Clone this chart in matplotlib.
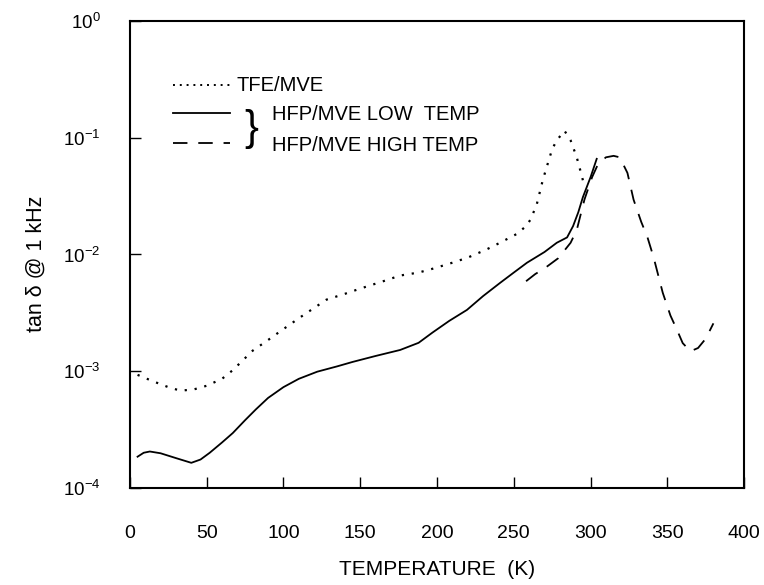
import matplotlib
matplotlib.use('Agg')
import matplotlib.pyplot as plt
from matplotlib.lines import Line2D
from matplotlib.ticker import LogLocator, LogFormatterMathtext, NullLocator

plt.rcParams['font.family'] = ['Liberation Sans', 'DejaVu Sans']
plt.rcParams['mathtext.fontset'] = 'custom'
plt.rcParams['mathtext.rm'] = 'Liberation Sans'
plt.rcParams['mathtext.it'] = 'Liberation Sans:italic'

# TFE/MVE (dotted)
tfe_T = [5, 15, 25, 33, 42, 50, 60, 67, 80, 90, 98, 111, 128, 140, 150, 165, 176, 188,
         198, 210, 220, 232, 241, 252, 258, 261, 265, 269, 275, 278, 283, 287, 291, 294.5, 296]
tfe_tan = [9.3e-4, 8.2e-4, 7.3e-4, 6.8e-4, 7.0e-4, 7.5e-4, 8.6e-4, 1.02e-3, 1.5e-3, 1.85e-3,
           2.2e-3, 2.9e-3, 4.1e-3, 4.6e-3, 5.1e-3, 5.9e-3, 6.6e-3, 7.0e-3, 7.6e-3, 8.5e-3,
           9.4e-3, 1.1e-2, 1.26e-2, 1.5e-2, 1.75e-2, 2.0e-2, 2.7e-2, 4.4e-2, 8.0e-2, 9.5e-2,
           0.115, 0.095, 0.068, 0.046, 0.038]

# HFP/MVE low temp (solid)
low_T = [5, 9, 13, 20, 30, 40, 46, 52, 60, 67, 75, 82, 90, 100, 110, 122, 135, 145, 160,
         176, 188, 197, 208, 219.5, 230, 241, 250, 258.6, 270, 278, 284.7, 288.6, 292, 295,
         300, 304]
low_tan = [1.85e-4, 2.0e-4, 2.05e-4, 1.98e-4, 1.8e-4, 1.64e-4, 1.75e-4, 2.0e-4, 2.45e-4,
           2.95e-4, 3.8e-4, 4.7e-4, 5.9e-4, 7.3e-4, 8.6e-4, 9.9e-4, 1.1e-3, 1.2e-3, 1.35e-3,
           1.52e-3, 1.75e-3, 2.14e-3, 2.7e-3, 3.35e-3, 4.4e-3, 5.7e-3, 7.0e-3, 8.5e-3,
           1.05e-2, 1.26e-2, 1.4e-2, 1.75e-2, 2.3e-2, 3.1e-2, 4.6e-2, 6.6e-2]

# HFP/MVE high temp (dashed)
high_T = [258, 264, 270, 279, 287, 291, 296, 301, 305, 310, 315, 319, 324, 328, 333, 337,
          341, 347, 352, 356, 360, 365, 370, 375, 380]
high_tan = [5.9e-3, 6.8e-3, 7.6e-3, 9.3e-3, 1.26e-2, 1.62e-2, 2.95e-2, 4.6e-2, 6.0e-2,
            6.8e-2, 7.0e-2, 6.8e-2, 5.0e-2, 2.95e-2, 1.9e-2, 1.41e-2, 9.5e-3, 4.7e-3,
            3.0e-3, 2.3e-3, 1.74e-3, 1.48e-3, 1.58e-3, 1.9e-3, 2.57e-3]

x_ticks = [0, 50, 100, 150, 200, 250, 300, 350, 400]

fig = plt.figure(figsize=(7.64, 5.85), dpi=100)
ax = fig.add_axes([0.170, 0.166, 0.804, 0.798])

dot_style = (0, (1.0, 3.5))
dash_style = (0, (8, 6))
ax.plot(tfe_T, tfe_tan, color='black', lw=1.6, linestyle=dot_style)
ax.plot(low_T, low_tan, color='black', lw=1.3, linestyle='-')
ax.plot(high_T, high_tan, color='black', lw=1.3, linestyle=dash_style)

ax.set_yscale('log')
ax.set_xlim(0, 400)
ax.set_ylim(1e-4, 1e0)
ax.set_xticks(x_ticks)
ax.yaxis.set_major_locator(LogLocator(base=10))
ax.yaxis.set_major_formatter(LogFormatterMathtext())
ax.yaxis.set_minor_locator(NullLocator())

ax.tick_params(axis='x', direction='in', length=8, width=1, pad=27, labelsize=14,
               top=False)
ax.tick_params(axis='y', direction='in', length=8, width=1, pad=21, labelsize=13.5,
               right=False)
for s in ax.spines.values():
    s.set_linewidth(1.5)

ax.set_xlabel('TEMPERATURE  (K)', fontsize=15, labelpad=13)
ax.set_ylabel('tan δ @ 1 kHz', fontsize=15.5)
ax.yaxis.set_label_coords(-0.135, 0.48)

# hand-drawn style legend
tr = ax.transAxes
ax.add_line(Line2D([0.070, 0.163], [0.863, 0.863], transform=tr, color='black',
                   lw=1.4, linestyle=(0, (1.0, 2.5))))
ax.text(0.174, 0.863, 'TFE/MVE', transform=tr, fontsize=14.5, va='center', ha='left')
ax.add_line(Line2D([0.070, 0.163], [0.803, 0.803], transform=tr, color='black', lw=1.3))
ax.add_line(Line2D([0.070, 0.163], [0.739, 0.739], transform=tr, color='black', lw=1.3,
                   linestyle=dash_style))
ax.text(0.198, 0.768, '}', transform=tr, fontsize=30, va='center', ha='center')
ax.text(0.231, 0.800, 'HFP/MVE LOW  TEMP', transform=tr, fontsize=14.5, va='center', ha='left')
ax.text(0.231, 0.734, 'HFP/MVE HIGH TEMP', transform=tr, fontsize=14.5, va='center', ha='left')

fig.savefig('out.png', dpi=100)
